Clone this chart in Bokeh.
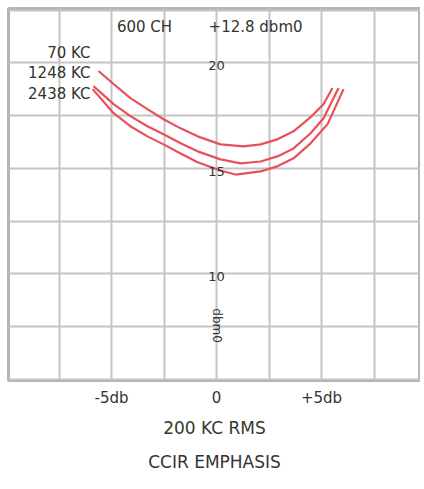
from bokeh.plotting import figure
from bokeh.models import Range1d, FixedTicker, Label, Title
from bokeh.embed import file_html
from bokeh.resources import INLINE

# Data (x in db relative to 200 KC RMS, y in dbm0)
curve_names = ["70 KC", "1248 KC", "2438 KC"]
x_70 = [-5.62, -4.90, -4.10, -3.29, -2.52, -1.71, -0.90, 0.19, 1.29, 2.10, 2.90, 3.67, 4.48, 5.10, 5.52]
y_70 = [19.62, 19.00, 18.33, 17.81, 17.33, 16.90, 16.52, 16.14, 16.05, 16.14, 16.38, 16.76, 17.43, 18.05, 18.81]
x_1248 = [-5.86, -4.90, -4.10, -3.29, -2.52, -1.71, -0.90, 0.19, 1.14, 2.10, 2.90, 3.67, 4.48, 5.10, 5.81]
y_1248 = [18.90, 18.05, 17.48, 17.00, 16.62, 16.19, 15.81, 15.43, 15.24, 15.33, 15.57, 15.95, 16.67, 17.38, 18.81]
x_2438 = [-5.90, -4.90, -4.10, -3.29, -2.52, -1.71, -0.90, 0.19, 0.90, 2.10, 2.90, 3.67, 4.48, 5.29, 6.05]
y_2438 = [18.76, 17.62, 17.00, 16.52, 16.14, 15.71, 15.29, 14.90, 14.71, 14.86, 15.10, 15.48, 16.19, 17.10, 18.76]

x_ticks = [-5, 0, 5]
x_tick_labels = ["-5db", "0", "+5db"]
y_tick_values = [20, 15, 10]
x_grid = [-7.5, -5, -2.5, 0, 2.5, 5, 7.5]
y_grid = [5, 7.5, 10, 12.5, 15, 17.5, 20, 22.5]

FONT = "DejaVu Sans"
TXT = "#333333"
RED = "#e8505a"

p = figure(frame_width=412, frame_height=372, output_backend="svg",
           toolbar_location=None, y_axis_location=None,
           x_range=Range1d(-9.905, 9.714), y_range=Range1d(4.95, 22.58),
           min_border_left=8, min_border_right=0, min_border_top=8,
           min_border_bottom=0)
p.background_fill_color = "white"
p.border_fill_color = "white"
p.outline_line_color = "#b5b5b5"
p.outline_line_width = 3

p.xgrid[0].ticker = FixedTicker(ticks=x_grid)
p.ygrid[0].ticker = FixedTicker(ticks=y_grid)
for g in (p.xgrid[0], p.ygrid[0]):
    g.grid_line_color = "#c4c4c4"
    g.grid_line_width = 2

ax = p.xaxis[0]
ax.ticker = FixedTicker(ticks=x_ticks)
ax.major_label_overrides = {t: l for t, l in zip(x_ticks, x_tick_labels)}
ax.axis_line_color = None
ax.major_tick_line_color = None
ax.minor_tick_line_color = None
ax.major_tick_out = 0
ax.major_label_standoff = 8
ax.major_label_text_font = FONT
ax.major_label_text_font_size = "15px"
ax.major_label_text_color = TXT
ax.axis_label = "200 KC RMS"
ax.axis_label_text_font = FONT
ax.axis_label_text_font_size = "17px"
ax.axis_label_text_font_style = "normal"
ax.axis_label_text_color = "#343a2c"
ax.axis_label_standoff = 8

p.add_layout(Title(text="CCIR EMPHASIS", align="center", text_font=FONT,
                   text_font_size="17px", text_font_style="normal",
                   text_color=TXT, standoff=18), "below")

for xs, ys in ((x_70, y_70), (x_1248, y_1248), (x_2438, y_2438)):
    p.line(xs, ys, line_color=RED, line_width=2.2, line_join="round")

# value labels on the centre line
for v in y_tick_values:
    p.add_layout(Label(x=0, y=v, text=str(v), text_font=FONT, text_font_size="13px",
                       text_color=TXT, text_align="center", text_baseline="middle",
                       y_offset=-3))
p.add_layout(Label(x=0, y=7.55, text="dbm0", text_font=FONT, text_font_size="12px",
                   text_color=TXT, text_align="center", text_baseline="middle",
                   angle=-1.5708))

# header labels
p.add_layout(Label(x=-3.43, y=21.7, text="600 CH", text_font=FONT, text_font_size="15px",
                   text_color=TXT, text_align="center", text_baseline="middle"))
p.add_layout(Label(x=1.86, y=21.7, text="+12.8 dbm0", text_font=FONT, text_font_size="15px",
                   text_color=TXT, text_align="center", text_baseline="middle"))
for name, yv in zip(curve_names, [20.47, 19.53, 18.53]):
    p.add_layout(Label(x=-6.0, y=yv, text=name, text_font=FONT, text_font_size="15px",
                       text_color=TXT, text_align="right", text_baseline="middle"))

open("out.html", "w").write(file_html(p, INLINE))
